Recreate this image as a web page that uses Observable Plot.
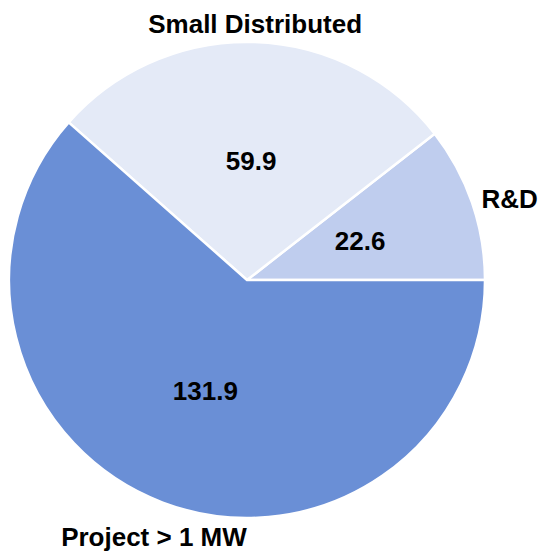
<!DOCTYPE html>
<html><head><meta charset="utf-8">
<script src="https://cdn.jsdelivr.net/npm/d3@7"></script>
<script src="https://cdn.jsdelivr.net/npm/@observablehq/plot@0.6"></script>
<style>body{margin:0;background:#fff}</style>
</head><body><div id="chart"></div>
<script>
const categories = ["R&D", "Small Distributed", "Project > 1 MW"];
const values = [22.6, 59.9, 131.9];
const colors = ["#bfcdee", "#e4eaf7", "#6a8fd6"];

const table = categories.map((c, i) => ({category: c, value: values[i]}));
const pie = d3.pie().value(d => d.value).sort(null)
  .startAngle(Math.PI / 2).endAngle(Math.PI / 2 - 2 * Math.PI);
const slices = pie(table).map(a => {
  const mid = (a.startAngle + a.endAngle) / 2;
  return {...a.data, startAngle: a.startAngle, endAngle: a.endAngle, ux: Math.sin(mid), uy: Math.cos(mid)};
});
const color = Plot.scale({color: {domain: categories, range: colors}});

function pieSlices(data) {
  return (index, scales) => {
    const cx = scales.x(0), cy = scales.y(0), r = scales.x(1) - cx;
    const arc = d3.arc().innerRadius(0).outerRadius(r);
    const g = d3.create("svg:g").attr("transform", `translate(${cx},${cy})`);
    g.selectAll("path").data(data).join("path")
      .attr("d", arc)
      .attr("fill", d => color.apply(d.category))
      .attr("stroke", "#fff").attr("stroke-width", 2.5).attr("stroke-linejoin", "round");
    return g.node();
  };
}

const anchorOf = d => [d.ux > 0.5 ? "start" : d.ux < -0.5 ? "end" : "middle",
                       d.uy > 0.5 ? "bottom" : d.uy < -0.5 ? "top" : "middle"];
const groups = d3.groups(slices, d => anchorOf(d).join("|"));
const labelMarks = groups.map(([k, g]) => {
  const [ta, la] = k.split("|");
  const rr = la === "top" ? 1.11 : 1.04;
  return Plot.text(g, {x: d => d.ux * rr, y: d => d.uy * rr, text: "category",
    textAnchor: ta, lineAnchor: la, fontSize: 26, fontWeight: "bold", fill: "#000"});
});

const chart = Plot.plot({
  width: 541, height: 558,
  marginLeft: 9, marginRight: 56, marginTop: 42, marginBottom: 40,
  x: {domain: [-1, 1], axis: null},
  y: {domain: [-1, 1], axis: null},
  style: {fontFamily: "'Liberation Sans', Arial, sans-serif", background: "#fff"},
  marks: [
    pieSlices(slices),
    Plot.text(slices, {x: d => d.ux * 0.5, y: d => d.uy * 0.5, text: d => d3.format(".1f")(d.value),
      fontSize: 26, fontWeight: "bold", fill: "#000"}),
    ...labelMarks
  ]
});
document.getElementById("chart").appendChild(chart);
</script>
</body></html>
